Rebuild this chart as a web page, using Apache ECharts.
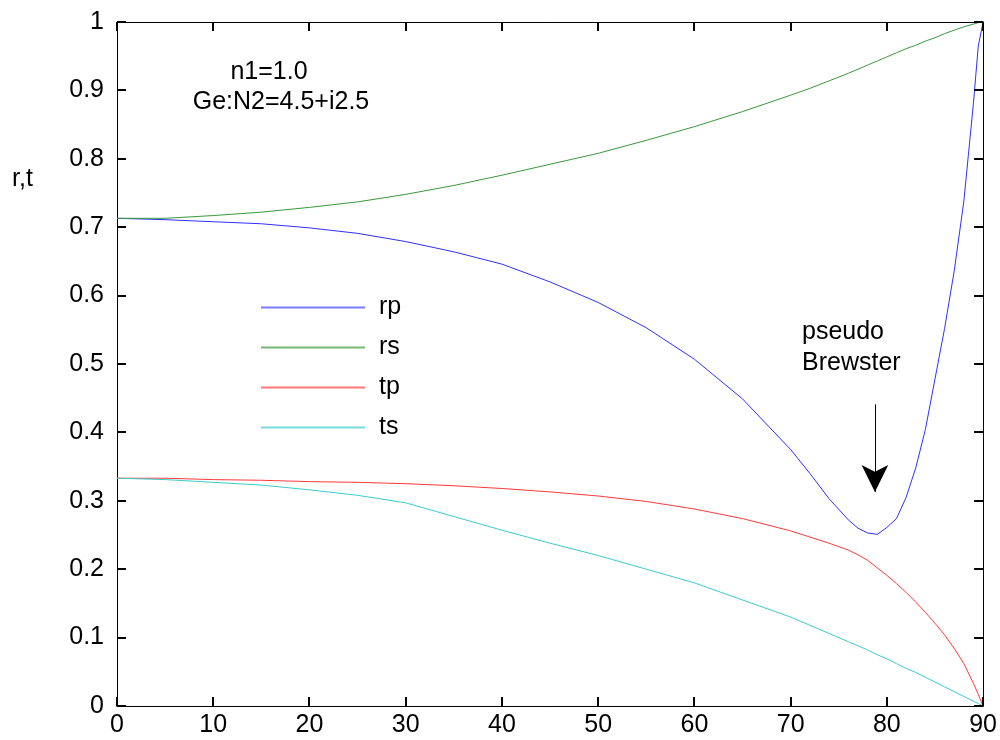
<!DOCTYPE html>
<html>
<head>
<meta charset="utf-8">
<script src="https://cdn.jsdelivr.net/npm/echarts/dist/echarts.min.js"></script>
<style>
  html, body { margin: 0; padding: 0; background: #fff; }
  #chart { width: 1000px; height: 740px; }
</style>
</head>
<body>
<div id="chart"></div>
<script>
// incidence angle (deg)
var angles = [0, 5, 10, 15, 20, 25, 30, 35, 40, 45, 50, 55, 60, 65, 70, 72, 74, 76, 77, 78, 79, 80,
  81, 82, 83, 84, 85, 86, 87, 88, 89, 89.5, 90]

var rp = [0.713, 0.711, 0.708, 0.705, 0.699, 0.691, 0.679, 0.664, 0.646, 0.620, 0.590, 0.553, 0.507,
  0.449, 0.375, 0.340, 0.303, 0.272, 0.260, 0.253, 0.251, 0.261, 0.274, 0.305, 0.348, 0.404, 0.478,
  0.552, 0.636, 0.738, 0.882, 0.965, 1.0]
var rs = [0.713, 0.713, 0.717, 0.722, 0.729, 0.737, 0.748, 0.761, 0.776, 0.792, 0.808, 0.827, 0.847,
  0.869, 0.893, 0.903, 0.914, 0.925, 0.931, 0.937, 0.943, 0.949, 0.955, 0.961, 0.966, 0.972, 0.977,
  0.983, 0.988, 0.993, 0.997, 0.999, 1.0]
var tp = [0.333, 0.333, 0.331, 0.330, 0.328, 0.327, 0.325, 0.322, 0.318, 0.313, 0.307, 0.299, 0.288,
  0.274, 0.256, 0.247, 0.238, 0.228, 0.221, 0.213, 0.202, 0.191, 0.179, 0.166, 0.152, 0.137, 0.121,
  0.104, 0.084, 0.062, 0.033, 0.017, 0]
var ts = [0.333, 0.331, 0.327, 0.323, 0.316, 0.308, 0.297, 0.277, 0.257, 0.238, 0.220, 0.200, 0.180,
  0.155, 0.130, 0.118, 0.106, 0.094, 0.088, 0.082, 0.075, 0.069, 0.062, 0.055, 0.049, 0.042, 0.035,
  0.028, 0.021, 0.014, 0.007, 0.0035, 0]

// tick positions on the box
var xTicks = [0, 10, 20, 30, 40, 50, 60, 70, 80, 90]
var yTicks = [0, 0.1, 0.2, 0.3, 0.4, 0.5, 0.6, 0.7, 0.8, 0.9, 1]

var seriesNames = ['rp', 'rs', 'tp', 'ts']
var seriesColors = ['#3030ff', '#3a983a', '#ff3a3a', '#3ccccc']
var legendColors = ['#7b7bff', '#74b874', '#ff7777', '#77dcdc']

// pseudo Brewster arrow, angle and r range
var arrowX = 78.76
var arrowY = [0.441, 0.313]

var font = 'Arial, "Liberation Sans", sans-serif'
var tickLen = 9

function pairs (vals) {
  return angles.map(function (a, i) { return [a, vals[i]] })
}

function makeAxis (pos, min, max, interval, label) {
  return {
    type: 'value',
    position: pos,
    min: min,
    max: max,
    interval: interval,
    axisLine: { show: true, onZero: false, lineStyle: { color: '#000', width: 1 } },
    axisTick: { show: false },
    splitLine: { show: false },
    axisLabel: label
  }
}

function makeTexts () {
  var f = '25px ' + font
  return [
    { type: 'text', left: 12, top: 167, style: { text: 'r,t', font: f, fill: '#000' } },
    { type: 'text', x: 269, y: 72, style: { text: 'n1=1.0', font: f, fill: '#000', align: 'center', verticalAlign: 'middle' } },
    { type: 'text', x: 281, y: 102, style: { text: 'Ge:N2=4.5+i2.5', font: f, fill: '#000', align: 'center', verticalAlign: 'middle' } },
    { type: 'text', x: 802, y: 332, style: { text: 'pseudo', font: f, fill: '#000', align: 'left', verticalAlign: 'middle' } },
    { type: 'text', x: 802, y: 363, style: { text: 'Brewster', font: f, fill: '#000', align: 'left', verticalAlign: 'middle' } }
  ]
}

var series = [rp, rs, tp, ts].map(function (vals, i) {
  var s = {
    name: seriesNames[i],
    type: 'line',
    data: pairs(vals),
    showSymbol: false,
    symbol: 'none',
    z: 1,
    lineStyle: { color: seriesColors[i], width: 1 },
    itemStyle: { color: seriesColors[i] },
    emphasis: { disabled: true },
    silent: true
  }
  if (i === 0) {
    s.markLine = {
      silent: true,
      symbol: ['none', 'arrow'],
      symbolSize: [20, 27],
      label: { show: false },
      lineStyle: { color: '#000', width: 1, type: 'solid' },
      itemStyle: { color: '#000' },
      emphasis: { disabled: true },
      data: [[{ coord: [arrowX, arrowY[0]] }, { coord: [arrowX, arrowY[1]] }]]
    }
  }
  return s
})

var labelStyle = { fontFamily: font, fontSize: 25, color: '#000' }

var option = {
  animation: false,
  backgroundColor: '#fff',
  grid: { left: 117, right: 14, top: 22, bottom: 34 },
  legend: {
    orient: 'vertical',
    left: 256,
    top: 290,
    icon: 'rect',
    itemWidth: 104,
    itemHeight: 2,
    itemGap: 15,
    textStyle: { fontFamily: font, fontSize: 25, color: '#000', lineHeight: 25, padding: [0, 0, 0, 9] },
    data: seriesNames.map(function (n, i) {
      return { name: n, itemStyle: { color: legendColors[i] } }
    }),
    selectedMode: false
  },
  xAxis: [
    makeAxis('bottom', 0, 90, 10, Object.assign({ margin: 7 }, labelStyle)),
    makeAxis('top', 0, 90, 10, { show: false })
  ],
  yAxis: [
    makeAxis('left', 0, 1, 0.1, Object.assign({ margin: 13 }, labelStyle)),
    makeAxis('right', 0, 1, 0.1, { show: false })
  ],
  graphic: makeTexts(),
  series: series
}

var chart = echarts.init(document.getElementById('chart'))
chart.setOption(option)

// inward ticks on all four sides, placed through the axes' own scales
function drawTicks () {
  var p0 = chart.convertToPixel({ gridIndex: 0 }, [0, 0])
  var p1 = chart.convertToPixel({ gridIndex: 0 }, [90, 1])
  var xL = p0[0], yB = p0[1], xR = p1[0], yT = p1[1]
  var list = []
  function tick (x1, y1, x2, y2) {
    list.push({
      type: 'line', silent: true, z: 100,
      shape: { x1: x1, y1: y1, x2: x2, y2: y2 },
      style: { stroke: '#000', lineWidth: 2 }
    })
  }
  xTicks.forEach(function (v) {
    var px = Math.round(chart.convertToPixel({ xAxisIndex: 0 }, v))
    tick(px, yB, px, yB - tickLen)
    tick(px, yT, px, yT + tickLen)
  })
  yTicks.forEach(function (v) {
    var py = Math.round(chart.convertToPixel({ yAxisIndex: 0 }, v))
    tick(xL, py, xL + tickLen, py)
    tick(xR, py, xR - tickLen, py)
  })
  chart.setOption({ graphic: makeTexts().concat(list) })
}
drawTicks()
</script>
</body>
</html>
